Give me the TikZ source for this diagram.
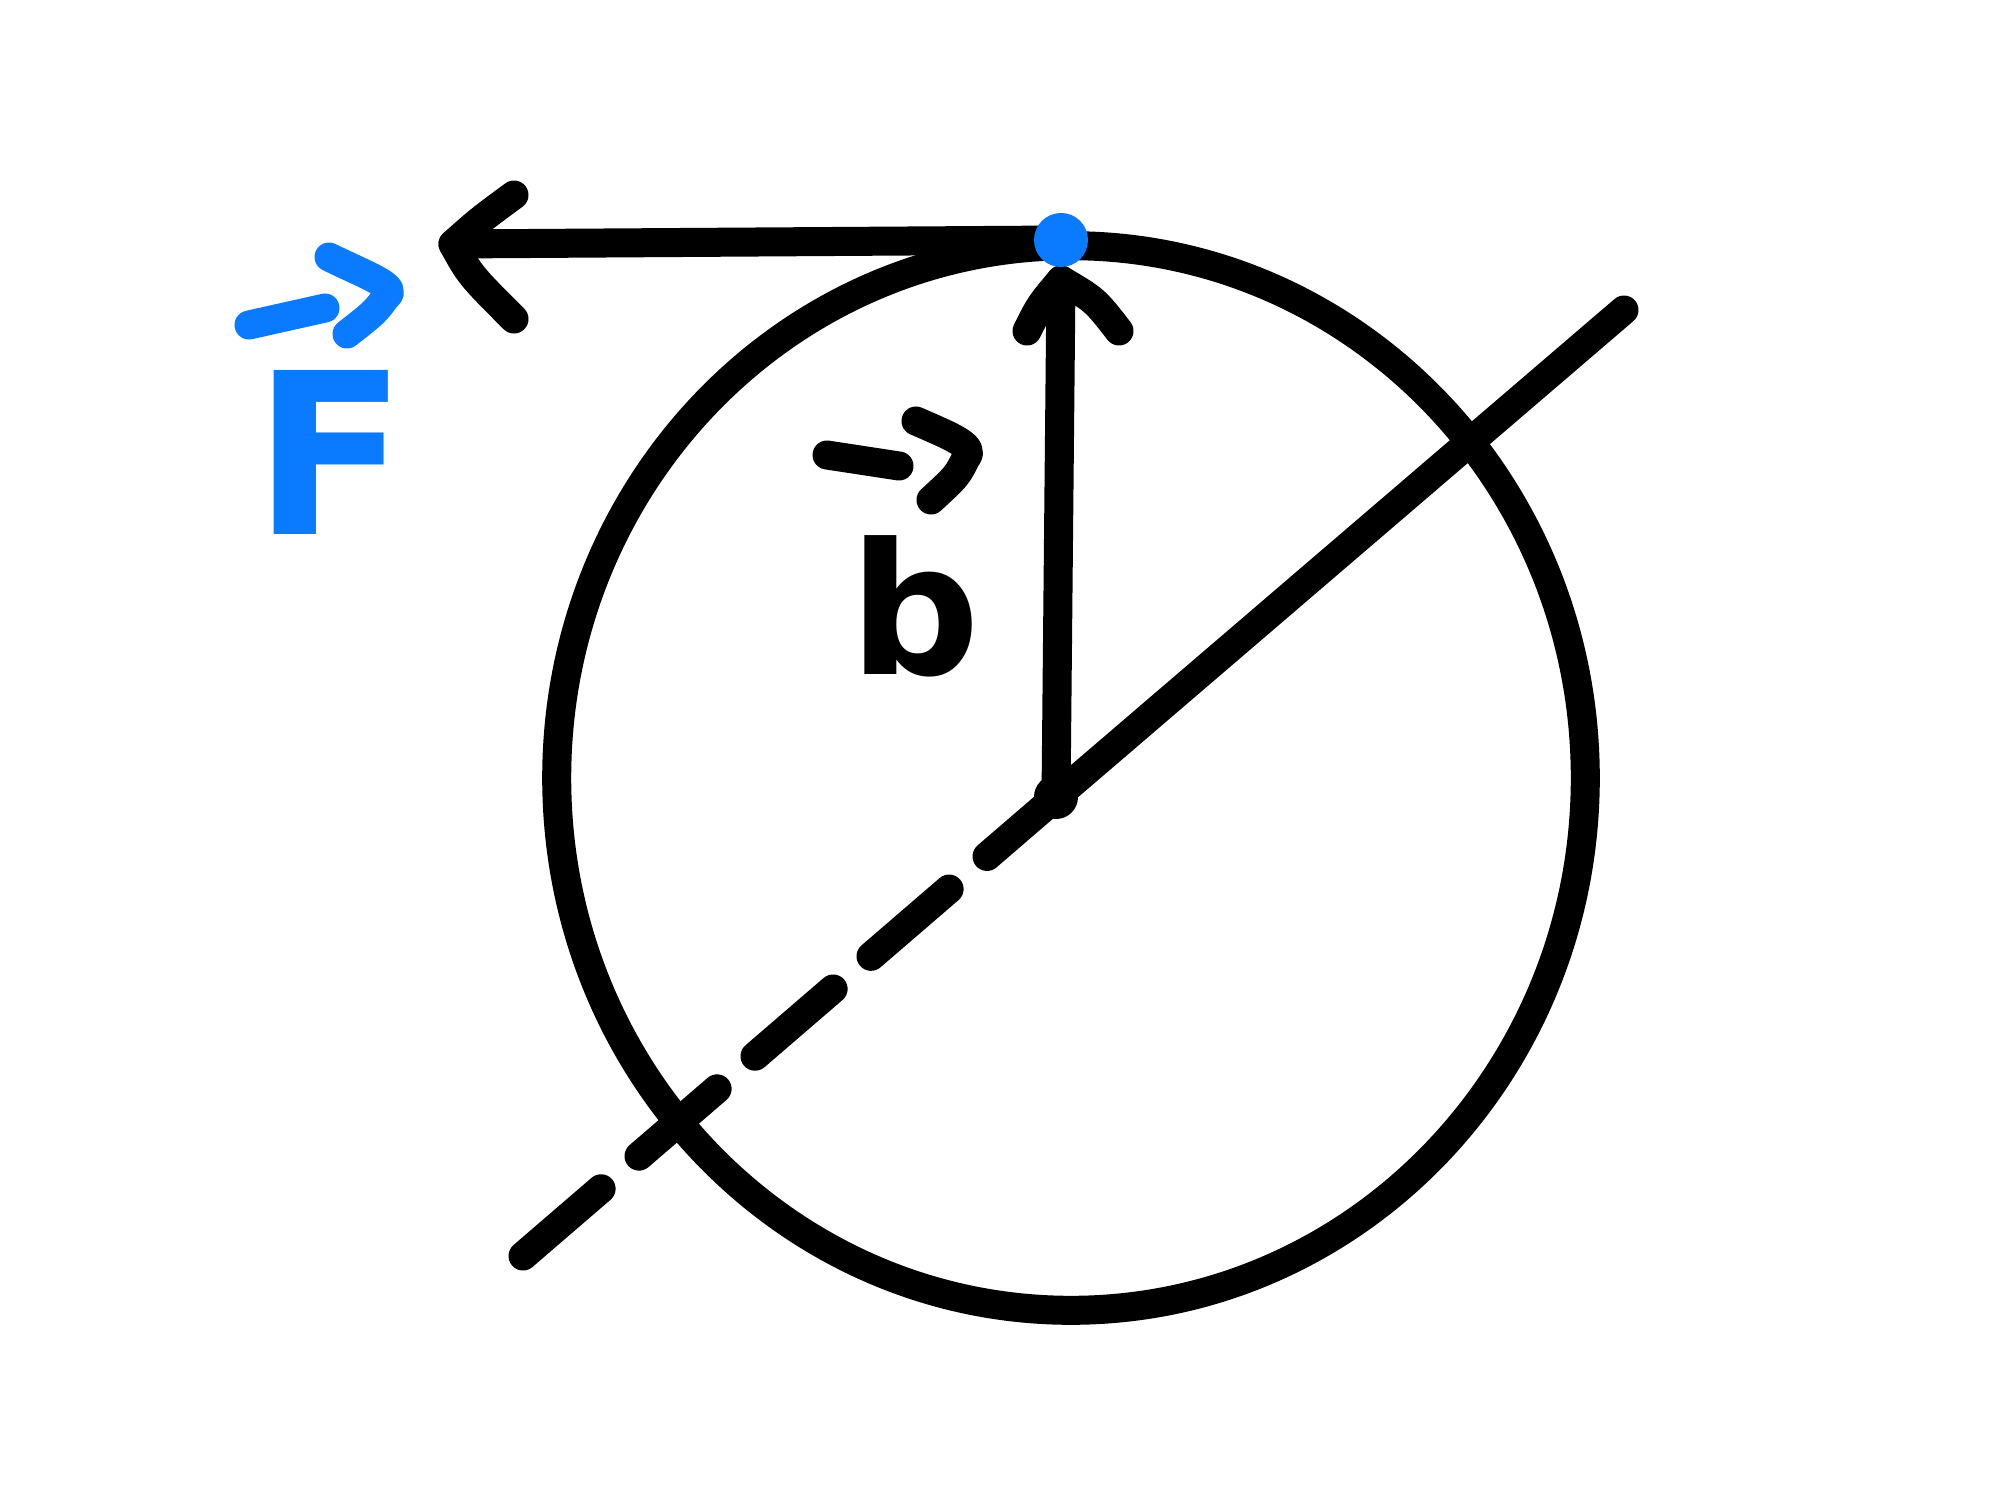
\documentclass[tikz,border=0pt]{standalone}
\usepackage{fontspec}
\setmainfont{DejaVu Sans}
\definecolor{penblue}{RGB}{10,122,255}
\begin{document}
\begin{tikzpicture}[x=0.01cm,y=-0.01cm,
  pen/.style={line width=0.29cm, line cap=round, line join=round},
  dashpen/.style={pen, dash pattern=on 1.03cm off 0.50cm},
  lab/.style={inner sep=0pt}]
\useasboundingbox[fill=white] (0,0) rectangle (2000,1500);
% key points
\coordinate (O) at (1056,797);
\coordinate (P) at (1061,240);
\coordinate (Rtip) at (1061,280);
\coordinate (Ftip) at (453,244);
\coordinate (U) at (1624,310);
\coordinate (L) at (523,1256);
% wheel
\draw[pen] (1071,778) ellipse [x radius=5.14cm, y radius=5.32cm];
% axis line
\draw[pen] (O) -- (U);
\draw[dashpen] (L) -- (O);
% position vector
\draw[pen] (O) -- (Rtip);
\draw[pen] (1027,331) .. controls (1040,305) .. (Rtip) .. controls (1095,300) .. (1119,331);
% force vector
\draw[pen] (P) -- (Ftip);
\draw[pen] (514,195) .. controls (480,220) .. (Ftip) .. controls (470,275) .. (514,319);
% points
\fill (O) circle [radius=0.22cm];
\fill[penblue] (P) circle [radius=0.27cm];
% labels
\node[lab, text=penblue, font=\fontsize{64}{64}\selectfont\bfseries] (Flab) at (330,452) {F};
\draw[pen, penblue] ([shift={(-81,-127)}]Flab.center) -- ([shift={(-5,-144)}]Flab.center);
\draw[pen, penblue] ([shift={(-1,-195)}]Flab.center) .. controls ([shift={(40,-175)}]Flab.center) and ([shift={(70,-165)}]Flab.center) .. ([shift={(56,-155)}]Flab.center) .. controls ([shift={(45,-140)}]Flab.center) .. ([shift={(17,-118)}]Flab.center);
\node[lab, font=\fontsize{52}{52}\selectfont\bfseries] (blab) at (915,606) {b};
\draw[pen] ([shift={(-88,-151)}]blab.center) -- ([shift={(-16,-140)}]blab.center);
\draw[pen] ([shift={(1,-185)}]blab.center) .. controls ([shift={(35,-170)}]blab.center) and ([shift={(62,-160)}]blab.center) .. ([shift={(51,-148)}]blab.center) .. controls ([shift={(42,-130)}]blab.center) .. ([shift={(16,-106)}]blab.center);
\end{tikzpicture}
\end{document}
